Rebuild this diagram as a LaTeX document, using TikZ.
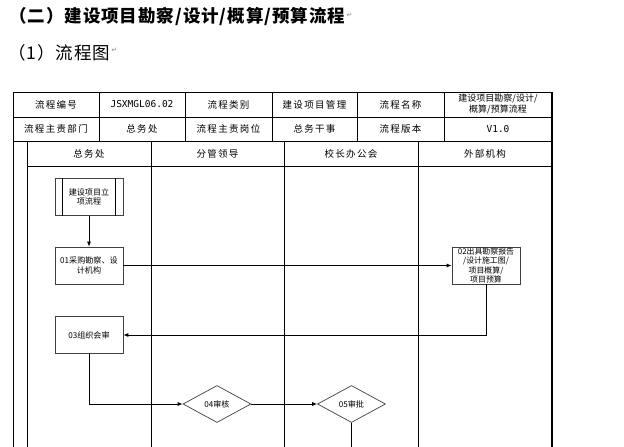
\documentclass[tikz,border=0pt]{standalone}
\usepackage{fontspec}
\usetikzlibrary{shapes.geometric,arrows.meta}
\newfontfamily\cjk{Noto Sans CJK SC}
\newfontfamily\cjkhd{Noto Sans CJK SC}[LetterSpace=5.5]
\newfontfamily\cjksp{Noto Sans CJK SC}[LetterSpace=14]
\newfontfamily\monof{DejaVu Sans Mono}
\newfontfamily\symf{DejaVu Sans}
\begin{document}
\begin{tikzpicture}[x=1pt,y=-1pt,
  grid/.style={draw=black,line width=0.9pt},
  cell/.style={font=\cjksp\fontsize{9.5}{11}\selectfont,inner sep=0pt,align=center},
  codecell/.style={font=\monof\fontsize{9.5}{11}\selectfont,inner sep=0pt},
  procbox/.style={draw=black!75,line width=0.7pt,rectangle,minimum width=68pt,minimum height=37pt,inner sep=1pt,align=center,font=\cjk\fontsize{8.1}{9.6}\selectfont},
  decbox/.style={draw=black!75,line width=0.7pt,diamond,aspect=1.84,minimum width=68pt,minimum height=37pt,inner sep=0pt,font=\cjk\fontsize{8.1}{9.6}\selectfont},
  conn/.style={draw=black,line width=0.8pt},
  arr/.style={conn,-{Latex[length=5pt,width=4pt]}},
  retmark/.style={font=\symf\fontsize{7}{8}\selectfont,text=black!45,inner sep=0pt}
]
\useasboundingbox[fill=white] (0,0) rectangle (624,447);

% headings
\node[anchor=west,inner sep=0pt,font=\cjkhd\bfseries\fontsize{17.5}{20}\selectfont] (title) at (9,17) {（二）建设项目勘察/设计/概算/预算流程};
\node[retmark,anchor=west] (rm1) at ([xshift=1pt,yshift=2pt]title.east) {↵};
\node[anchor=west,inner sep=0pt,font=\cjkhd\fontsize{17.5}{20}\selectfont] (sub) at (8,53) {（1）流程图};
\node[retmark,anchor=west] (rm2) at ([xshift=1pt,yshift=3pt]sub.east) {↵};

% table grid
\draw[grid] (13,92) -- (552,92);
\draw[grid] (13,117) -- (552,117);
\draw[grid] (13,141) -- (552,141);
\draw[grid] (27,166) -- (552,166);
\foreach \x in {99,185,272,357,444} \draw[grid] (\x,92) -- (\x,141);
\draw[grid] (13,92) -- (13,447);
\draw[grid] (27,141) -- (27,447);
\foreach \x in {151,284,418} \draw[grid] (\x,141) -- (\x,447);
\draw[draw=black,line width=1.6pt] (552,91.5) -- (552,447);

% table texts
\node[cell] (c11) at (56,104.5) {流程编号};
\node[codecell] (c12) at (142,104.5) {JSXMGL06.02};
\node[cell] (c13) at (228.5,104.5) {流程类别};
\node[cell] (c14) at (314.5,104.5) {建设项目管理};
\node[cell] (c15) at (400.5,104.5) {流程名称};
\node[cell,font=\cjk\fontsize{9}{11}\selectfont] (c16) at (498,104.5) {建设项目勘察/设计/\\概算/预算流程};
\node[cell] (c21) at (56,129) {流程主责部门};
\node[cell] (c22) at (142,129) {总务处};
\node[cell] (c23) at (228.5,129) {流程主责岗位};
\node[cell] (c24) at (314.5,129) {总务干事};
\node[cell] (c25) at (400.5,129) {流程版本};
\node[codecell] (c26) at (498,129) {V1.0};

% lane headers
\node[cell] (l1) at (89,153.5) {总务处};
\node[cell] (l2) at (217.5,153.5) {分管领导};
\node[cell] (l3) at (351,153.5) {校长办公会};
\node[cell] (l4) at (485,153.5) {外部机构};

% flow nodes
\node[procbox] (pp) at (89,197) {建设项目立\\项流程};
\draw[draw=black,line width=0.7pt] ([xshift=8pt]pp.north west) -- ([xshift=8pt]pp.south west);
\draw[draw=black,line width=0.7pt] ([xshift=-8pt]pp.north east) -- ([xshift=-8pt]pp.south east);
\node[procbox] (b01) at (89,265.5) {01采购勘察、设\\计机构};
\node[procbox,font=\cjk\fontsize{7.9}{9.2}\selectfont] (b02) at (486,265.5) {02出具勘察报告\\/设计施工图/\\项目概算/\\项目预算};
\node[procbox] (b03) at (89,335) {03组织会审};
\node[decbox] (d04) at (217,404) {04审核};
\node[decbox] (d05) at (351.5,404) {05审批};
\coordinate (tail) at (351.5,447);

% connectors
\draw[arr] (pp.south) -- (b01.north);
\draw[arr] (b01.east) -- (b02.west);
\draw[arr] (b02.south) |- (b03.east);
\draw[arr] (b03.south) |- (d04.west);
\draw[arr] (d04.east) -- (d05.west);
\draw[conn] (d05.south) -- (tail);
\end{tikzpicture}
\end{document}
